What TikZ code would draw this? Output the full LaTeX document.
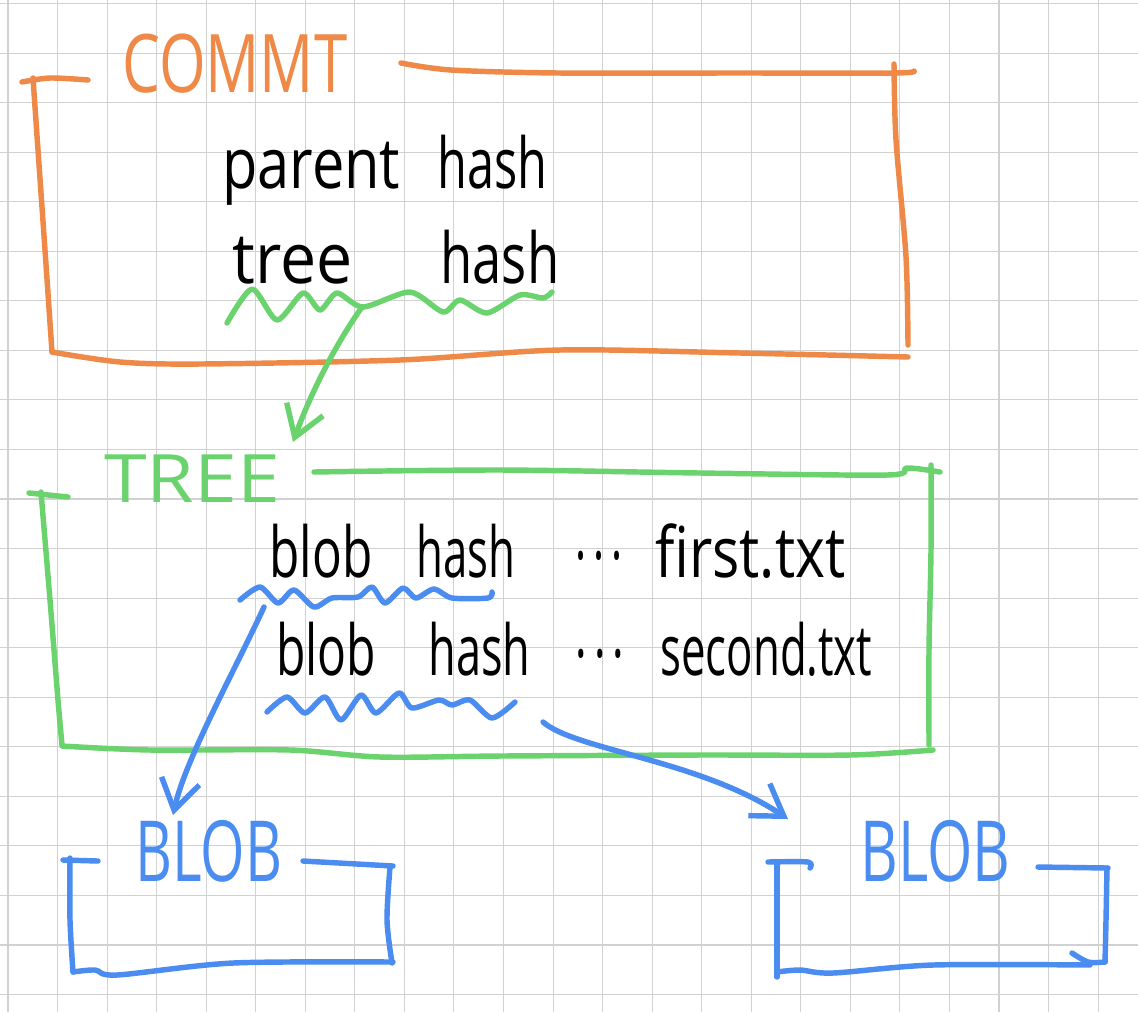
\documentclass[tikz,border=0pt]{standalone}
\usepackage{fontspec}
\setmainfont{Open Sans}
\usepackage{graphicx}
\usetikzlibrary{arrows.meta}
\definecolor{commitorange}{HTML}{EE8947}
\definecolor{treegreen}{HTML}{6AD36E}
\definecolor{blobblue}{HTML}{4A8CEF}
\newlength{\px}
\setlength{\px}{0.02cm}
\newcommand{\fitw}[2]{\resizebox{#1\px}{\height}{#2}}
\newcommand{\leader}{\raisebox{18\px}{.\,.\,.}}

\begin{document}
\begin{tikzpicture}[
	x=0.02cm, y=-0.02cm,
	gridline/.style={ black!18, line width=0.6pt },
	pen/.style={ line width=3.1pt, line cap=round, line join=round },
	barb/.style={ -{Straight Barb[length=17pt, width=22pt]} },
	title/.style={ inner sep=0pt, anchor=base west, font=\fontsize{#1}{#1}\selectfont },
	words/.style={ inner sep=0pt, anchor=base west, font=\fontsize{40}{44}\selectfont }
]

\fill[white] (0,0) rectangle (1138,1012);
\useasboundingbox (0,0) rectangle (1138,1012);
\foreach \i in {0,...,22}
  \draw[gridline] ({8+49.55*\i},0) -- ({8+49.55*\i},1012);
\foreach \j in {0,...,20}
  \draw[gridline] (0,{3.5+49.55*\j}) -- (1138,{3.5+49.55*\j});

% commit
\node (commit) at (122,92) [title=46, commitorange] {\fitw{225}{COMMT}};
\draw[pen, commitorange] plot[smooth] coordinates {(22,82) (50,78) (88,80)};
\draw[pen, commitorange] plot[smooth] coordinates {(33,78) (38,150) (45,250) (52,352)};
\draw[pen, commitorange] plot[smooth] coordinates {(52,352) (120,362) (200,364) (400,360) (560,350) (740,353) (908,357)};
\draw[pen, commitorange] plot[smooth] coordinates {(401,63) (451,70) (559,73) (737,73) (894,73) (914,71)};
\draw[pen, commitorange] plot[smooth] coordinates {(894,64) (896,140) (906,257) (908,345)};
\node (parent) at (222,188) [words] {\fitw{178}{parent}\hspace{37\px}\fitw{110}{hash}};
\node (treeref) at (232,283) [words] {\fitw{120}{tree}\hspace{88\px}\fitw{119}{hash}};
\draw[pen, treegreen] plot[smooth, tension=0.45] coordinates {(227,323) (252,289) (277,320) (303,293) (320,310) (337,293) (363,307) (410,292) (443,312) (460,300) (487,313) (520,295) (543,298) (552,292)};

% tree
\node (tree) at (104,502) [title=38, treegreen] {\fitw{176}{TREE}};
\draw[pen, treegreen] (29,493) -- (68,497);
\draw[pen, treegreen] plot[smooth] coordinates {(41,492) (50,600) (58,700) (62,745)};
\draw[pen, treegreen] plot[smooth] coordinates {(62,746) (150,750) (290,750) (380,757) (500,756) (700,755) (850,755) (933,750)};
\draw[pen, treegreen] plot[smooth] coordinates {(314,472) (500,470) (700,473) (887,475) (907,468) (940,472)};
\draw[pen, treegreen] plot[smooth] coordinates {(931,465) (931,550) (929,650) (929,745)};
\node (first) at (269,577) [words] {\fitw{103}{blob}\hspace{44\px}\fitw{99}{hash}\hspace{60\px}\fitw{47}{\leader}\hspace{33\px}\fitw{190}{first.txt}};
\node (second) at (276,675) [words] {\fitw{100}{blob}\hspace{52\px}\fitw{102}{hash}\hspace{45\px}\fitw{49}{\leader}\hspace{36\px}\fitw{212}{second.txt}};
\draw[pen, blobblue] plot[smooth, tension=0.45] coordinates {(240,600) (260,587) (278,603) (294,590) (314,607) (332,598) (358,597) (372,587) (385,603) (403,588) (416,598) (434,589) (452,598) (488,598) (492,592)};
\draw[pen, blobblue] plot[smooth, tension=0.45] coordinates {(267,712) (287,697) (305,713) (325,697) (341,720) (361,695) (376,713) (399,693) (412,708) (439,700) (452,705) (470,700) (492,718) (515,702)};

% blobs
\node (blobA) at (135,881) [title=48, blobblue] {\fitw{147}{BLOB}};
\draw[pen, blobblue] (63,860) -- (98,861);
\draw[pen, blobblue] plot[smooth] coordinates {(70,858) (70,920) (73,972)};
\draw[pen, blobblue] plot[smooth] coordinates {(73,972) (95,970) (117,975) (233,963) (393,962)};
\draw[pen, blobblue] plot[smooth] coordinates {(390,867) (387,920) (392,963)};
\draw[pen, blobblue] (303,861) -- (393,866);
\node (blobB) at (860,881) [title=48, blobblue] {\fitw{150}{BLOB}};
\draw[pen, blobblue] plot[smooth] coordinates {(768,862) (808,862) (810,868)};
\draw[pen, blobblue] (777,863) -- (777,977);
\draw[pen, blobblue] plot[smooth] coordinates {(777,972) (800,970) (833,973) (933,965) (1090,965)};
\draw[pen, blobblue] plot[smooth] coordinates {(1107,868) (1106,920) (1105,962)};
\draw[pen, blobblue] plot[smooth] coordinates {(1072,953) (1088,962) (1105,962)};
\draw[pen, blobblue] (1038,867) -- (1108,868);

% pointers
\coordinate (treehash) at (362,307);
\coordinate (treein) at (293,442);
\coordinate (firsthash) at (264,607);
\coordinate (firstblob) at (173,815);
\coordinate (secondhash) at (543,722);
\coordinate (secondblob) at (788,819);
\draw[pen, treegreen, barb] (treehash) .. controls (335,345) and (310,395) .. (treein);
\draw[pen, blobblue, barb] (firsthash) .. controls (235,670) and (185,760) .. (firstblob);
\draw[pen, blobblue, barb] (secondhash) .. controls (575,750) and (700,760) .. (secondblob);

\end{tikzpicture}
\end{document}
